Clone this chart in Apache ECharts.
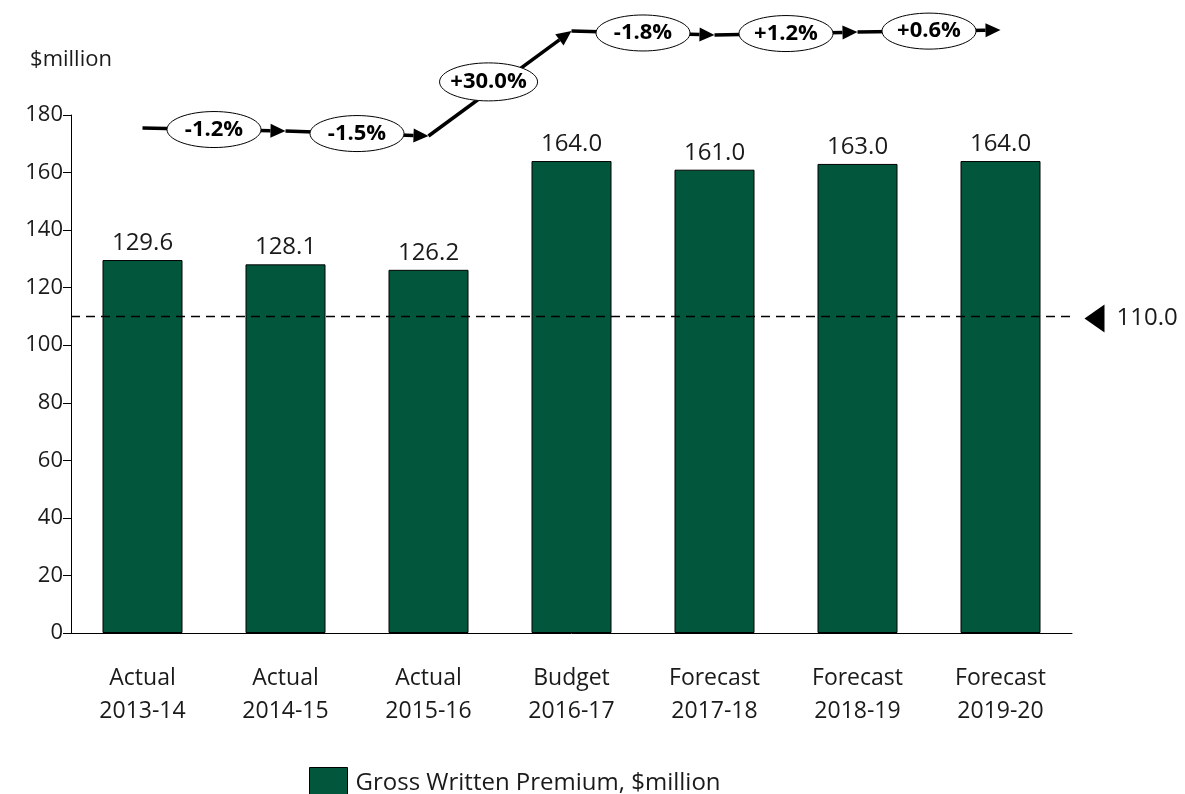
<!DOCTYPE html>
<html>
<head>
<meta charset="utf-8">
<script src="https://cdn.jsdelivr.net/npm/echarts@6/dist/echarts.min.js"></script>
<style>
html,body{margin:0;padding:0;background:#fff;}
#chart{width:1185px;height:794px;}
</style>
</head>
<body>
<div id="chart"></div>
<script>
// ---- data ----
const categories = ['Actual\n2013-14','Actual\n2014-15','Actual\n2015-16','Budget\n2016-17','Forecast\n2017-18','Forecast\n2018-19','Forecast\n2019-20'];
const premium = [129.6, 128.1, 126.2, 164.0, 161.0, 163.0, 164.0];
const growthLevel = [175.5, 174.4, 172.7, 209.2, 207.8, 208.8, 209.5];
const growthPct = ['-1.2%','-1.5%','+30.0%','-1.8%','+1.2%','+0.6%'];
const refLine = 110.0;
const yTicks = {min: 0, max: 180, interval: 20};
const seriesName = 'Gross Written Premium, $million';
const yName = '$million';

const FONT = 'Open Sans';
const TXT = '#1a1a1a';

const segData = [];
for (let i = 0; i < growthPct.length; i++) {
  segData.push([i, growthLevel[i], growthLevel[i + 1]]);
}

const chart = echarts.init(document.getElementById('chart'));
chart.setOption({
  animation: false,
  textStyle: {fontFamily: FONT},
  grid: {left: 71, right: 113, top: 115, bottom: 161},
  legend: {
    left: 304, top: 762,
    itemWidth: 38, itemHeight: 31,
    itemGap: 10,
    icon: 'rect',
    data: [{name: seriesName, itemStyle: {borderColor: '#000', borderWidth: 1}}],
    textStyle: {fontSize: 24, color: TXT, fontFamily: FONT, padding: [0, 0, 0, 3]}
  },
  xAxis: {
    type: 'category',
    data: categories,
    axisLine: {lineStyle: {color: '#000', width: 1}},
    axisTick: {show: false},
    axisLabel: {fontSize: 23, color: TXT, lineHeight: 33, margin: 29, interval: 0}
  },
  yAxis: {
    type: 'value',
    min: yTicks.min, max: yTicks.max, interval: yTicks.interval,
    name: yName,
    nameLocation: 'end',
    nameGap: 44,
    nameTextStyle: {fontSize: 22, color: TXT, align: 'center'},
    axisLine: {show: true, lineStyle: {color: '#000', width: 1}},
    axisTick: {show: true, length: 8, lineStyle: {color: '#000'}},
    axisLabel: {fontSize: 22, color: TXT, margin: 8},
    splitLine: {show: false}
  },
  series: [
    {
      name: seriesName,
      type: 'bar',
      data: premium,
      barWidth: 80,
      itemStyle: {color: '#02563C', borderColor: '#000', borderWidth: 1},
      label: {
        show: true, position: 'top', distance: 5,
        fontSize: 24, color: TXT,
        formatter: p => p.value.toFixed(1)
      },
      markLine: {
        silent: true,
        symbol: ['none', 'none'],
        lineStyle: {color: '#000', width: 1.3, type: [9, 6]},
        label: {show: false},
        data: [{yAxis: refLine}]
      },
      markPoint: {
        silent: true,
        data: [{
          coord: [categories[6], refLine],
          symbol: 'path://M0,10 L20,0 L20,20 Z',
          symbolSize: [20, 28],
          symbolOffset: [94, 2],
          itemStyle: {color: '#000'},
          label: {
            show: true, position: 'right', distance: 12,
            fontSize: 24, color: TXT,
            formatter: refLine.toFixed(1)
          }
        }]
      }
    },
    {
      type: 'custom',
      name: 'growth',
      silent: true,
      clip: false,
      encode: {x: 0, y: [1, 2]},
      data: segData,
      z: 10,
      renderItem: function (params, api) {
        const i = api.value(0);
        const p0 = api.coord([i, api.value(1)]);
        const p1 = api.coord([i + 1, api.value(2)]);
        const ang = Math.atan2(p1[1] - p0[1], p1[0] - p0[0]);
        const L = 15, W = 7;
        const c = Math.cos(ang), s = Math.sin(ang);
        const base = [p1[0] - L * c, p1[1] - L * s];
        const perp = [-s, c];
        const sloped = Math.abs(s) > 0.3;
        const t = sloped ? 0.42 : 0.5;
        const mid = [p0[0] + (p1[0] - p0[0]) * t, p0[1] + (p1[1] - p0[1]) * t - (sloped ? 10 : 0)];
        return {
          type: 'group',
          children: [
            {type: 'line', shape: {x1: p0[0], y1: p0[1], x2: base[0], y2: base[1]},
             style: {stroke: '#000', lineWidth: 3.5}},
            {type: 'polygon', shape: {points: [p1,
              [base[0] + perp[0] * W, base[1] + perp[1] * W],
              [base[0] - perp[0] * W, base[1] - perp[1] * W]]},
             style: {fill: '#000'}},
            {type: 'ellipse', shape: {cx: mid[0], cy: mid[1], rx: sloped ? 49 : 47, ry: sloped ? 19 : 18},
             style: {fill: '#fff', stroke: '#000', lineWidth: 1}},
            {type: 'text', x: mid[0], y: mid[1],
             style: {text: growthPct[params.dataIndex], fontSize: 22, fontWeight: 'bold',
                     fontFamily: FONT, fill: '#000', align: 'center', verticalAlign: 'middle'}}
          ]
        };
      }
    }
  ]
});
</script>
</body>
</html>
